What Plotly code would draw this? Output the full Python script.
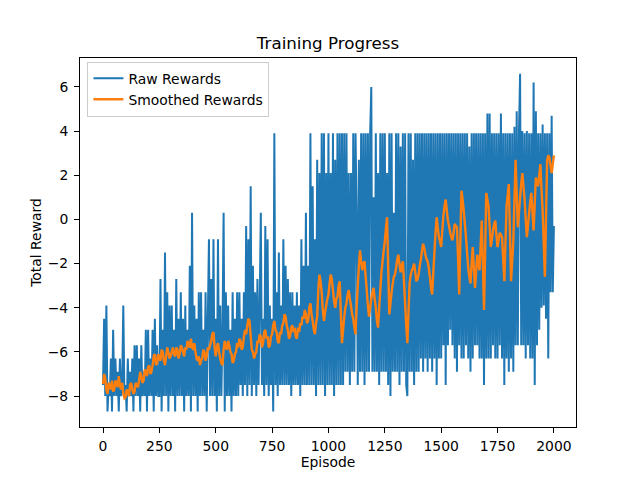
import plotly.graph_objects as go

raw_episodes = list(range(0, 2001, 5))
raw_rewards = [
    -7.5, -4.5, -8.0, -3.9, -8.7, -7.5, -8.0, -6.3, -8.7, -5.0,
    -8.0, -6.3, -8.0, -6.9, -8.7, -6.3, -8.0, -7.5, -3.9, -8.0,
    -7.5, -8.7, -6.3, -8.0, -6.9, -8.0, -6.3, -8.7, -5.7, -8.0,
    -5.7, -8.0, -6.3, -8.7, -5.7, -8.0, -6.9, -8.0, -5.0, -8.7,
    -5.0, -8.0, -6.3, -8.0, -5.0, -8.7, -4.5, -8.0, -5.7, -8.0,
    -8.0, -2.7, -8.7, -5.0, -8.0, -1.5, -8.0, -3.3, -8.7, -3.9,
    -8.0, -3.9, -8.0, -5.0, -8.7, -2.7, -8.0, -4.5, -8.0, -3.3,
    -8.0, -4.5, -8.7, -3.9, -8.0, -5.0, -8.0, -2.1, -8.7, 0.3,
    -8.0, -3.9, -8.0, -4.5, -8.7, -3.3, -8.0, -3.3, -8.0, -5.0,
    -8.0, -3.3, -8.7, -4.5, -0.9, -8.0, -2.7, -8.0, -0.9, -8.0,
    -4.5, -8.7, -0.9, -8.0, -3.9, -8.0, -5.0, 0.3, -8.7, -3.3,
    -8.0, -3.9, -8.0, -5.0, -8.7, -3.3, -8.0, -4.5, -8.0, -3.3,
    -8.0, -3.3, -7.5, -4.5, -8.0, -3.3, -7.5, -0.3, -8.0, -0.9,
    -7.5, 1.5, -8.0, -2.1, -7.5, -3.3, -8.0, -2.7, -7.5, -3.9,
    0.3, -7.5, -4.5, -8.0, -0.3, -7.5, -0.9, -8.0, -3.9, -7.5,
    -4.5, -8.7, 3.9, -7.5, -3.3, -8.0, -1.5, -7.5, -3.9, -7.5,
    -0.9, -7.5, -2.1, -7.5, -2.7, -7.5, -3.3, -8.0, -3.3, -7.5,
    -3.9, -7.5, -3.3, -7.5, -3.9, -8.0, -0.9, -7.5, -2.1, -7.5,
    0.3, -7.5, -2.1, -7.5, 3.9, -7.5, 1.5, -7.5, -0.9, -8.0,
    2.7, -7.5, 2.1, -7.5, 3.9, -7.5, 3.9, -8.0, 2.1, -7.5,
    3.9, -7.5, 2.1, -7.5, 3.9, -8.0, 2.7, -7.5, 3.9, -7.5,
    3.9, -7.5, 3.9, -7.5, 3.9, -6.9, 3.9, -6.9, 2.1, -7.5,
    2.1, -6.9, 3.9, -6.9, 3.9, 0.3, -7.5, 2.7, -6.9, 3.9,
    -6.9, 3.9, -7.5, 3.9, -6.9, 3.9, -6.9, 3.9, 6.0, -6.9,
    1.0, -6.9, 3.9, -6.9, 2.1, -7.5, 3.9, -6.9, 3.9, -6.9,
    3.9, -6.9, 2.1, -7.5, 3.9, -8.0, 3.9, -6.9, 0.3, -6.9,
    3.9, -6.9, 3.9, -7.5, 3.3, -6.9, 3.9, -6.9, 3.9, -7.5,
    -8.0, 3.9, -6.9, 3.9, -6.9, 2.7, -7.5, 3.9, -6.9, 3.9,
    -6.9, 3.9, -6.3, 3.9, -6.9, 3.9, -6.3, 3.9, -6.9, 3.9,
    -6.3, 3.9, -6.9, 3.9, -6.3, 3.9, -7.5, 3.9, -6.3, 3.9,
    -6.3, 3.9, -5.7, 3.9, -7.5, 3.9, -5.7, 3.9, -5.0, 3.9,
    -5.7, 3.9, -6.3, 3.9, -6.9, 3.9, -5.7, 3.9, -6.3, 3.9,
    -6.3, 3.9, -5.7, 3.9, -6.3, 3.3, -6.9, 3.9, -6.3, 3.9,
    -5.7, 3.9, -5.7, 3.9, -6.3, 3.9, -6.3, 3.9, -7.5, 3.9,
    -6.3, 4.8, -6.3, 4.8, -6.3, 3.9, -5.7, 3.9, -6.3, 3.9,
    -6.3, 3.9, -5.7, 4.8, -6.3, 3.9, -7.5, 3.9, -6.3, 3.9,
    -6.9, 3.9, -6.3, 3.9, -6.9, 4.2, -5.7, 4.9, -5.7, 3.9,
    6.6, -5.7, 4.0, -5.7, 3.9, -6.3, 4.0, -5.7, 3.9, -6.3,
    3.9, -6.3, 6.2, -7.5, 4.9, -5.7, 3.9, -5.0, 3.9, -4.0,
    4.3, -3.9, 3.9, -4.5, 3.9, -6.3, 3.9, -3.3, 4.7, -3.3,
    -0.3,
]

smooth_episodes = list(range(0, 2001, 5))
smooth_rewards = [
    -7.45, -7.0, -7.2, -7.7, -7.9, -7.4, -7.5, -7.7, -7.3, -7.8,
    -7.7, -7.3, -7.4, -7.6, -7.1, -7.5, -7.7, -7.4, -7.9, -8.1,
    -8.05, -7.7, -7.8, -8.0, -7.5, -7.4, -7.7, -7.9, -7.8, -7.4,
    -7.5, -7.6, -7.3, -6.9, -7.1, -7.4, -7.3, -6.8, -6.9, -7.1,
    -6.7, -6.6, -7.0, -6.9, -6.6, -6.2, -6.1, -6.6, -6.5, -6.1,
    -6.3, -6.4, -5.9, -6.0, -6.4, -6.6, -6.2, -5.8, -6.0, -6.3,
    -6.2, -6.0, -5.8, -6.1, -6.2, -5.8, -5.9, -6.3, -6.1, -5.7,
    -5.8, -6.0, -6.2, -5.8, -5.9, -5.5, -5.7, -5.8, -5.4, -5.8,
    -5.9, -5.6, -6.0, -6.3, -6.4, -6.2, -6.6, -6.4, -6.3, -5.9,
    -6.0, -6.4, -6.2, -5.8, -5.9, -5.7, -5.5, -5.2, -5.1, -5.8,
    -6.2, -5.8, -5.6, -6.0, -6.3, -6.5, -6.6, -5.9, -5.5, -5.8,
    -5.9, -5.5, -5.7, -6.0, -6.1, -6.5, -6.4, -6.1, -6.0, -5.6,
    -5.8, -5.4, -5.5, -5.9, -5.8, -5.3, -5.0, -5.2, -4.8, -4.5,
    -4.6, -5.3, -5.9, -6.0, -6.3, -6.1, -6.0, -5.5, -5.6, -5.2,
    -5.3, -5.8, -5.6, -5.1, -5.0, -5.4, -5.3, -5.8, -5.7, -5.3,
    -5.2, -4.8, -4.6, -5.0, -5.1, -5.5, -5.6, -5.1, -5.2, -4.8,
    -4.7, -4.3, -4.4, -4.8, -5.0, -5.4, -5.3, -4.9, -4.8, -5.1,
    -4.9, -5.3, -5.4, -4.9, -5.1, -4.7, -4.8, -4.4, -4.5, -4.1,
    -4.3, -4.7, -4.6, -4.0, -3.8, -4.3, -4.6, -5.0, -5.2, -4.7,
    -4.4, -3.2, -2.5, -2.8, -3.3, -4.1, -4.6, -4.2, -3.9, -3.6,
    -3.4, -2.9, -2.5, -2.7, -3.2, -3.7, -4.0, -3.6, -3.5, -3.0,
    -2.8, -4.3, -5.6, -5.0, -4.4, -4.0, -3.8, -3.4, -3.2, -3.6,
    -3.9, -4.3, -4.5, -4.9, -5.2, -4.0, -3.0, -2.1, -1.4, -1.9,
    -2.3, -2.0, -1.9, -2.6, -3.2, -3.9, -4.4, -4.0, -3.6, -3.3,
    -3.1, -3.6, -4.0, -4.6, -4.9, -4.0, -3.2, -2.4, -1.9, -1.4,
    -1.0, -0.4, 0.1, -2.2, -4.3, -3.8, -3.3, -2.9, -2.6, -2.5,
    -2.2, -1.8, -1.6, -2.0, -2.4, -2.1, -1.9, -2.8, -3.8, -4.8,
    -5.6, -4.2, -2.9, -2.5, -2.3, -2.2, -2.0, -2.4, -2.8, -2.7,
    -2.5, -2.1, -1.8, -1.4, -1.1, -1.3, -1.6, -1.8, -1.9, -2.2,
    -2.6, -3.1, -3.4, -2.4, -1.5, -0.6, 0.1, -0.4, -0.8, -1.0,
    -1.25, -0.5, 0.2, 0.6, 0.9, 0.4, -0.05, -0.3, -0.6, -0.8,
    -0.95, -0.6, -0.2, -0.3, -0.35, -1.8, -3.4, -1.0, 1.3, 0.9,
    0.4, -0.2, -0.8, -1.5, -2.2, -2.6, -2.9, -2.0, -1.25, -2.2,
    -3.1, -2.4, -1.6, -2.0, -2.3, -1.2, -0.05, -2.0, -4.1, -1.5,
    1.2, 0.9, 0.6, -0.3, -1.25, -0.9, -0.5, -0.2, -0.05, -0.7,
    -1.25, -0.9, -0.6, -0.7, -0.8, -1.8, -2.8, -1.1, 0.6, 1.1,
    1.6, -0.6, -2.8, -1.9, -1.0, 0.9, 2.7, 1.2, -0.35, 0.3,
    1.0, 1.6, 2.1, 1.5, 0.9, 0.0, -0.8, -0.3, 0.3, 0.8,
    1.2, 0.3, -0.5, 0.7, 1.9, 1.7, 1.5, 2.0, 2.5, 1.4,
    0.4, -1.1, -2.6, 0.1, 2.7, 2.9, 2.8, 2.4, 2.1, 2.5,
    2.9,
]

x_ticks = [0, 250, 500, 750, 1000, 1250, 1500, 1750, 2000]
y_ticks = [-8, -6, -4, -2, 0, 2, 4, 6]

FONT = "DejaVu Sans, Liberation Sans, sans-serif"

fig = go.Figure()
fig.add_trace(go.Scatter(
    x=raw_episodes, y=raw_rewards, mode="lines", name="Raw Rewards",
    line=dict(color="#1f77b4", width=2, simplify=False),
))
fig.add_trace(go.Scatter(
    x=smooth_episodes, y=smooth_rewards, mode="lines", name="Smoothed Rewards",
    line=dict(color="#ff7f0e", width=2.4, simplify=False),
))

axis_common = dict(
    showgrid=False, zeroline=False, showline=True, mirror=True,
    linecolor="black", linewidth=1, ticks="outside", ticklen=5,
    tickwidth=1, tickcolor="black", automargin=False,
    tickfont=dict(family=FONT, size=13.9, color="black"),
)

# The page has an 8px body margin, so the figure is sized 624x464.
fig.update_layout(
    width=624, height=464,
    margin=dict(l=72, r=56, t=50, b=45, pad=0),
    paper_bgcolor="white", plot_bgcolor="white",
    font=dict(family=FONT, color="black"),
    title=dict(text="Training Progress", x=0.5, xref="paper",
               y=1 - 35 / 464, yref="container", yanchor="middle",
               xanchor="center", font=dict(family=FONT, size=16.7, color="black")),
    xaxis=dict(range=[-102, 2098], tickvals=x_ticks, ticklabelstandoff=1,
               title=dict(text="Episode", standoff=4,
                          font=dict(family=FONT, size=13.9, color="black")),
               **axis_common),
    yaxis=dict(range=[-9.40, 7.31], tickvals=y_ticks, ticklabelstandoff=3,
               title=dict(text="Total Reward", standoff=2,
                          font=dict(family=FONT, size=13.9, color="black")),
               **axis_common),
    legend=dict(x=0.015, y=0.99, xanchor="left", yanchor="top",
                bgcolor="rgba(255,255,255,0.8)", bordercolor="#cccccc",
                borderwidth=1, itemwidth=30, tracegroupgap=2,
                font=dict(family=FONT, size=13.9, color="black")),
    showlegend=True,
)

fig.write_html("out.html")
